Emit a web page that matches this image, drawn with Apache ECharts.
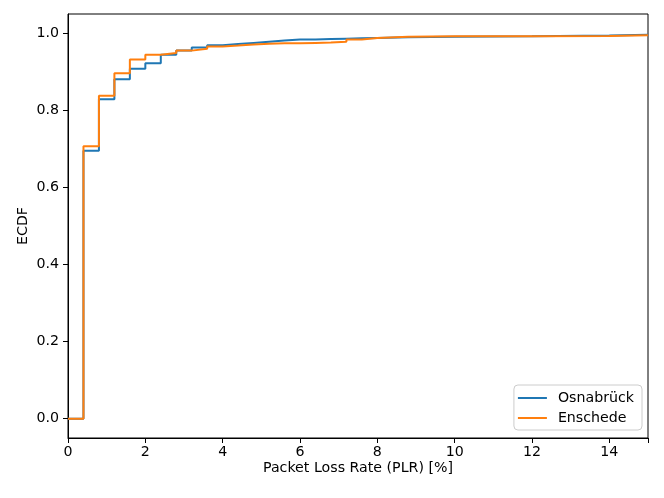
<!DOCTYPE html>
<html><head><meta charset="utf-8">
<script src="https://cdn.jsdelivr.net/npm/echarts@6/dist/echarts.min.js"></script>
<style>html,body{margin:0;padding:0;background:#fff}#c{width:664px;height:498px}</style>
</head><body><div id="c"></div>
<script>
const stepX = [0, 0.4, 0.8, 1.2, 1.6, 2.0, 2.4, 2.8, 3.2, 3.6, 4.0, 4.4, 4.8, 5.2, 5.6, 6.0, 6.4, 6.8, 7.2, 7.6, 8.0, 8.8, 10.0, 12.0, 14.0, 15.0];
const osnabrueck = [0, 0.695, 0.829, 0.881, 0.908, 0.922, 0.944, 0.955, 0.963, 0.969, 0.972, 0.975, 0.978, 0.981, 0.984, 0.984, 0.985, 0.986, 0.987, 0.988, 0.990, 0.991, 0.992, 0.994, 0.996, 0.996];
const enschede   = [0, 0.707, 0.838, 0.896, 0.932, 0.944, 0.949, 0.955, 0.960, 0.966, 0.968, 0.971, 0.973, 0.974, 0.974, 0.975, 0.976, 0.978, 0.984, 0.988, 0.991, 0.992, 0.992, 0.993, 0.995, 0.995];
const seriesNames = ['Osnabrück', 'Enschede'];
const xTicks = [0, 2, 4, 6, 8, 10, 12, 14];
const yTicks = [0.0, 0.2, 0.4, 0.6, 0.8, 1.0];

const font = 'DejaVu Sans';
const fs = 14.2;
const chart = echarts.init(document.getElementById('c'));
const pairs = (ys) => stepX.map((x, i) => [x, ys[i]]);
chart.setOption({
  animation: false,
  backgroundColor: '#fff',
  grid: {left: 68, top: 14, width: 580, height: 424, show: true, borderColor: '#000', borderWidth: 1, backgroundColor: 'transparent'},
  xAxis: {
    type: 'value', min: 0, max: 15, interval: 2,
    name: 'Packet Loss Rate (PLR) [%]', nameLocation: 'middle', nameGap: 23, nameMoveOverlap: false,
    nameTextStyle: {fontFamily: font, fontSize: fs, color: '#000'},
    axisLine: {show: true, onZero: false, lineStyle: {color: '#000', width: 1}},
    axisTick: {show: true, inside: false, length: 5, lineStyle: {color: '#000'}},
    axisLabel: {fontFamily: font, fontSize: fs, color: '#000', margin: 7,
      formatter: v => xTicks.includes(v) ? String(v) : ''},
    splitLine: {show: false}
  },
  yAxis: {
    type: 'value', min: -0.05, max: 1.05,
    interval: 0.2,
    name: 'ECDF', nameLocation: 'middle', nameGap: 38, nameMoveOverlap: false,
    nameTextStyle: {fontFamily: font, fontSize: fs, color: '#000'},
    axisLine: {show: true, onZero: false, lineStyle: {color: '#000', width: 1}},
    axisLabel: {fontFamily: font, fontSize: fs, color: '#000', margin: 9,
      customValues: yTicks, formatter: v => v.toFixed(1)},
    axisTick: {show: true, length: 5, lineStyle: {color: '#000'}, customValues: yTicks},
    splitLine: {show: false}
  },
  legend: {
    orient: 'vertical', right: 22, bottom: 68,
    backgroundColor: '#fff', borderColor: '#ccc', borderWidth: 1, borderRadius: 4,
    padding: [6, 8, 5, 4], itemGap: 6, itemWidth: 29, itemHeight: 2,
    textStyle: {fontFamily: font, fontSize: fs, color: '#000', padding: [0, 0, 0, 6]},
    icon: 'rect',
    data: seriesNames
  },
  series: [
    {name: seriesNames[0], type: 'line', step: 'end', showSymbol: false, data: pairs(osnabrueck),
      lineStyle: {color: '#1f77b4', width: 2}, itemStyle: {color: '#1f77b4'}},
    {name: seriesNames[1], type: 'line', step: 'end', showSymbol: false, data: pairs(enschede),
      lineStyle: {color: '#ff7f0e', width: 2}, itemStyle: {color: '#ff7f0e'}}
  ]
});
</script></body></html>
